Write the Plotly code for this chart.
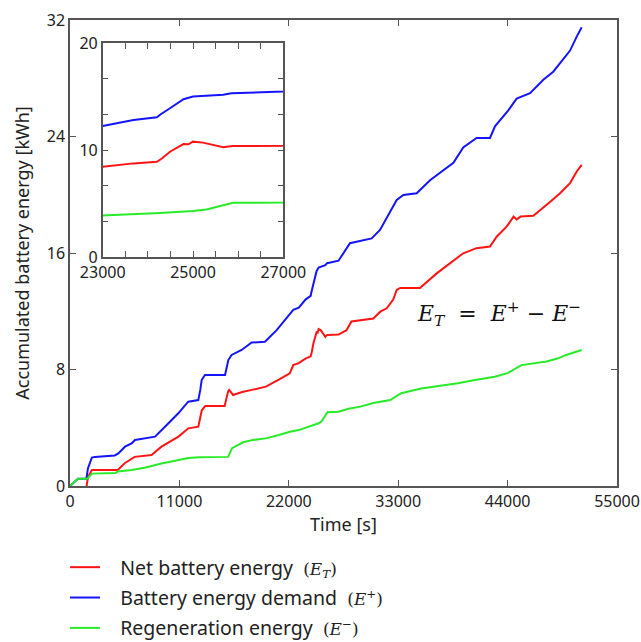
import plotly.graph_objects as go

# ---- data ----
green_t = [0, 600, 800, 1750, 2200, 4600, 4800, 6200, 7500, 9200, 10500, 11900, 13000, 15900,
           16300, 17400, 18300, 19700, 21000, 22100, 23000, 24270, 25000, 25300, 25670, 25890,
           27000, 28000, 29200, 30500, 32200, 33300, 35300, 37700, 39000, 40700, 42700, 44000,
           45400, 47900, 49000, 49900, 51450]
green_v = [0, 0.4, 0.5, 0.5, 0.85, 0.9, 1.0, 1.1, 1.25, 1.55, 1.75, 1.92, 1.97, 2.0,
           2.6, 3.0, 3.15, 3.27, 3.5, 3.73, 3.84, 4.12, 4.31, 4.44, 4.84, 5.06,
           5.1, 5.3, 5.45, 5.7, 5.9, 6.37, 6.7, 6.94, 7.05, 7.28, 7.5, 7.75,
           8.3, 8.55, 8.75, 9.0, 9.34]

red_t = [0, 300, 1650, 1800, 2200, 4800, 5500, 6500, 8200, 9200, 10900, 11900, 12900, 13100,
         13250, 13600, 15550, 15900, 16000, 16400, 17300, 18300, 19700, 21000, 22100, 22450,
         23000, 23680, 24200, 24310, 24490, 24790, 24900, 25000, 25220, 25440, 25670, 25740,
         25890, 27000, 27800, 28300, 30500, 31200, 31840, 32500, 32850, 33200, 35190, 36870,
         38200, 39540, 40880, 42230, 42900, 43900, 44600, 44900, 45300, 46590, 48260, 49270,
         50280, 50950, 51450]
red_v = [0, -0.1, -0.1, 0.6, 1.1, 1.1, 1.56, 2.0, 2.13, 2.7, 3.39, 3.96, 4.07, 4.6,
         5.2, 5.5, 5.5, 6.5, 6.6, 6.25, 6.45, 6.6, 6.82, 7.3, 7.74, 8.31,
         8.44, 8.75, 8.9, 9.2, 9.84, 10.56, 10.53, 10.78, 10.69, 10.47, 10.25, 10.31,
         10.37, 10.4, 10.7, 11.3, 11.5, 11.97, 12.2, 12.8, 13.46, 13.6, 13.6, 14.6,
         15.3, 15.98, 16.33, 16.44, 17.12, 17.81, 18.5, 18.3, 18.5, 18.55, 19.5, 20.1,
         20.8, 21.6, 22.05]

blue_t = [0, 600, 800, 1650, 1800, 2200, 2500, 4500, 4860, 5530, 6200, 6540, 8550, 9550,
          10220, 10890, 11890, 12900, 13100, 13240, 13570, 15590, 15920, 16250, 17260, 18270,
          19600, 20780, 22450, 23000, 23680, 24200, 24270, 24490, 24790, 25000, 25670, 25850,
          27000, 28150, 30330, 31170, 32850, 33520, 34860, 36200, 37540, 38550, 39540, 40880,
          42230, 42730, 44070, 44910, 46260, 47590, 48590, 49600, 50280, 50950, 51450]
blue_v = [0, 0.4, 0.5, 0.5, 1.2, 1.95, 2.0, 2.1, 2.24, 2.7, 2.93, 3.16, 3.39, 4.07,
          4.53, 4.99, 5.79, 5.9, 6.6, 7.28, 7.62, 7.62, 8.65, 9.0, 9.34, 9.85,
          9.91, 10.7, 12.09, 12.25, 12.8, 13.06, 13.3, 13.9, 14.75, 15.0, 15.16, 15.3,
          15.47, 16.67, 17.0, 17.58, 19.64, 19.99, 20.1, 21.0, 21.65, 22.2, 23.25, 23.9,
          23.9, 24.7, 25.8, 26.6, 26.97, 27.9, 28.45, 29.3, 29.9, 30.86, 31.5]

main_xticks = [0, 11000, 22000, 33000, 44000, 55000]
main_yticks = [0, 8, 16, 24, 32]
inset_xticks = [23000, 23500, 24000, 24500, 25000, 25500, 26000, 26500, 27000]
inset_xlabels = ["23000", "", "", "", "25000", "", "", "", "27000"]
inset_yticks = [0, 10 / 3, 20 / 3, 10, 40 / 3, 50 / 3, 20]
inset_ylabels = ["0", "", "", "10", "", "", "20"]

RED = "rgb(255,20,20)"
BLUE = "rgb(20,20,255)"
GREEN = "rgb(40,235,40)"
AX = "#555555"
FONT = "Noto Sans"
SERIF = "DejaVu Serif"

series = [
    ("Net battery energy", "<i>E</i><sub><i>T</i></sub>", red_t, red_v, RED),
    ("Battery energy demand", "<i>E</i><sup>+</sup>", blue_t, blue_v, BLUE),
    ("Regeneration energy", "<i>E</i><sup>\u2212</sup>", green_t, green_v, GREEN),
]

fig = go.Figure()
for i, (name, sym, t, v, c) in enumerate(series):
    label = (f"&nbsp;&nbsp;&nbsp;{name}&nbsp;&nbsp;"
             f"<span style='font-family:{SERIF};font-size:17px'>({sym})</span>")
    fig.add_trace(go.Scatter(x=t, y=v, mode="lines", name=label, legendgroup=f"g{i}",
                             line=dict(color=c, width=2), xaxis="x", yaxis="y"))
for i, (name, sym, t, v, c) in enumerate(series):
    fig.add_trace(go.Scatter(x=t, y=v, mode="lines", showlegend=False,
                             line=dict(color=c, width=2), xaxis="x2", yaxis="y2"))

W, H = 641, 642
L, R, T, B = 70, 24, 20, 156
pw, ph = W - L - R, H - T - B

def px2x(px):
    return (px - L) / pw

def px2y(py):
    return (H - B - py) / ph

common = dict(showline=True, linecolor=AX, linewidth=1.5, mirror="ticks", ticks="inside",
              ticklen=6, tickcolor=AX, tickwidth=1.2, showgrid=False, zeroline=False,
              automargin=False, tickfont=dict(family=FONT, size=16, color="#222"))

fig.update_layout(
    width=W, height=H,
    margin=dict(l=L, r=R, t=T, b=B, autoexpand=False),
    plot_bgcolor="white", paper_bgcolor="white",
    xaxis=dict(range=[0, 55000], tickvals=main_xticks, ticktext=[str(v) for v in main_xticks],
               title=dict(text="Time [s]", font=dict(family=FONT, size=18, color="#222"), standoff=4),
               **common),
    yaxis=dict(range=[0, 32], tickvals=main_yticks, ticktext=[str(v) for v in main_yticks],
               title=dict(text="Accumulated battery energy [kWh]",
                          font=dict(family=FONT, size=18, color="#222"), standoff=12),
               **common),
    xaxis2=dict(domain=[px2x(102.7), px2x(283.3)], anchor="y2", range=[23000, 27000],
                tickvals=inset_xticks, ticktext=inset_xlabels, **common),
    yaxis2=dict(domain=[px2y(257), px2y(43)], anchor="x2", range=[0, 20],
                tickvals=inset_yticks, ticktext=inset_ylabels, **common),
    legend=dict(x=px2x(65), y=px2y(548), xanchor="left", yanchor="top",
                font=dict(family=FONT, size=19.5, color="#222"), itemwidth=30,
                tracegroupgap=2, bgcolor="rgba(0,0,0,0)"),
    showlegend=True,
    annotations=[dict(
        x=px2x(499), y=px2y(314), xref="paper", yref="paper", showarrow=False,
        xanchor="center", yanchor="middle",
        text=("<i>E</i><sub><i>T</i></sub>&nbsp;&nbsp;=&nbsp;&nbsp;<i>E</i><sup>+</sup>"
              "&nbsp;\u2212&nbsp;<i>E</i><sup>\u2212</sup>"),
        font=dict(family=SERIF, size=22, color="#111"))],
)

fig.write_html("out.html")
